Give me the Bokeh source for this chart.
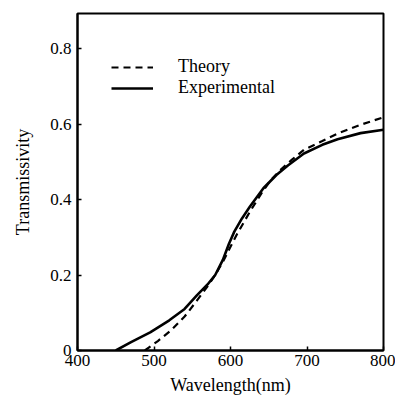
from bokeh.plotting import figure
from bokeh.models import Range1d, Legend, LegendItem, FixedTicker
from bokeh.embed import file_html
from bokeh.resources import INLINE

# Data
wl_exp = [450, 470, 495, 520, 540, 556, 570, 580, 590, 598, 605, 615, 625, 643, 660, 675, 696, 720, 740, 770, 800]
t_exp = [0.0, 0.022, 0.048, 0.080, 0.110, 0.146, 0.175, 0.200, 0.240, 0.283, 0.315, 0.350, 0.380, 0.430, 0.465, 0.490, 0.522, 0.545, 0.560, 0.576, 0.585]

wl_theory = [488, 505, 522, 540, 556, 570, 580, 590, 600, 609, 626, 640, 652, 665, 680, 696, 720, 740, 770, 800]
t_theory = [0.0, 0.025, 0.053, 0.090, 0.132, 0.170, 0.200, 0.235, 0.275, 0.310, 0.370, 0.415, 0.450, 0.478, 0.505, 0.532, 0.555, 0.575, 0.598, 0.618]

x_ticks = [400, 500, 600, 700, 800]
y_ticks = [0, 0.2, 0.4, 0.6, 0.8]
y_tick_labels = {0: "0", 0.2: "0.2", 0.4: "0.4", 0.6: "0.6", 0.8: "0.8"}

FONT = "Liberation Serif"

p = figure(width=395, height=405, output_backend="svg", toolbar_location=None,
           x_range=Range1d(400, 800), y_range=Range1d(0, 0.893),
           min_border_left=77, min_border_right=12, min_border_top=13, min_border_bottom=55)

p.grid.visible = False
p.outline_line_color = "black"
p.outline_line_width = 2
p.background_fill_color = "white"
p.border_fill_color = "white"

for ax in (p.xaxis[0], p.yaxis[0]):
    ax.axis_line_width = 2
    ax.axis_line_color = "black"
    ax.major_tick_in = 4
    ax.major_tick_out = 0
    ax.minor_tick_line_color = None
    ax.major_tick_line_width = 1.5
    ax.major_label_text_font = FONT
    ax.major_label_text_font_size = "17px"
    ax.major_label_text_color = "black"
    ax.axis_label_text_font = FONT
    ax.axis_label_text_font_size = "18px"
    ax.axis_label_text_font_style = "normal"
    ax.axis_label_text_color = "black"

p.xaxis.ticker = FixedTicker(ticks=x_ticks)
p.yaxis.ticker = FixedTicker(ticks=y_ticks)
p.yaxis.major_label_overrides = y_tick_labels
p.xaxis.axis_label = "Wavelength(nm)"
p.yaxis.axis_label = "Transmissivity"
p.xaxis.major_label_standoff = 4
p.yaxis.major_label_standoff = 6
p.xaxis.axis_label_standoff = 6
p.yaxis.axis_label_standoff = 14

r_theory = p.line(wl_theory, t_theory, line_color="black", line_width=2.2, line_dash="7 5")
r_exp = p.line(wl_exp, t_exp, line_color="black", line_width=2.6)

legend = Legend(items=[LegendItem(label="Theory", renderers=[r_theory]),
                       LegendItem(label="Experimental", renderers=[r_exp])],
                location=(34, 252))
legend.background_fill_alpha = 0
legend.border_line_color = None
legend.label_text_font = FONT
legend.label_text_font_size = "18px"
legend.label_text_color = "black"
legend.glyph_width = 42
legend.glyph_height = 20
legend.label_height = 20
legend.spacing = 0
legend.padding = 0
legend.margin = 0
legend.label_standoff = 25
p.add_layout(legend)

open("out.html", "w").write(file_html(p, INLINE))
